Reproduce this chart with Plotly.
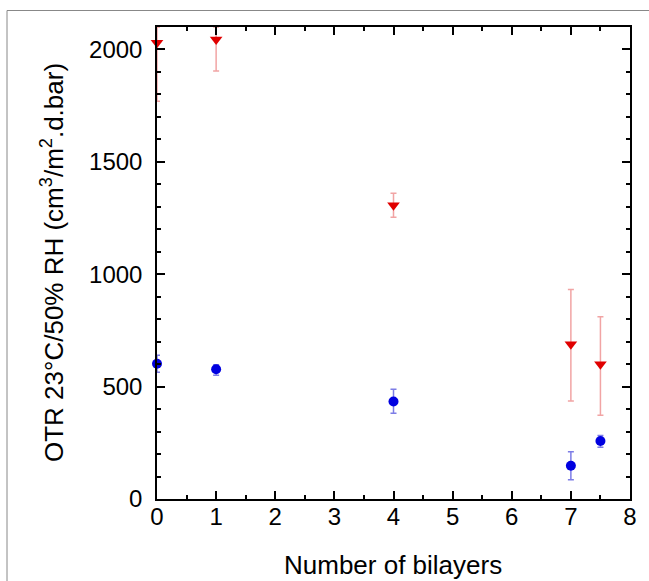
import plotly.graph_objects as go

# Red series (down triangles)
red_x = [0, 1, 4, 7, 7.5]
red_y = [2030, 2044, 1307, 688, 599]
red_err_plus = [70, 56, 53, 244, 212]
red_err_minus = [260, 140, 53, 252, 226]

# Blue series (circles)
blue_x = [0, 1, 4, 7, 7.5]
blue_y = [602, 577, 434, 148, 258]
blue_err_plus = [38, 20, 54, 62, 25]
blue_err_minus = [38, 26, 53, 62, 28]

x_ticks = [0, 1, 2, 3, 4, 5, 6, 7, 8]
y_ticks = [0, 500, 1000, 1500, 2000]

x_title = "Number of bilayers"
y_title = "OTR 23°C/50% RH (cm<sup>3</sup>/m<sup>2</sup>.d.bar)"

FONT = "Liberation Sans, Arial, sans-serif"

fig = go.Figure()
fig.add_trace(go.Scatter(
    x=red_x, y=red_y, mode="markers",
    marker=dict(symbol="triangle-down", size=11, color="#e00000"),
    error_y=dict(type="data", symmetric=False, array=red_err_plus,
                 arrayminus=red_err_minus, color="rgba(230,90,90,0.55)",
                 thickness=1.5, width=3),
    cliponaxis=False, showlegend=False))
fig.add_trace(go.Scatter(
    x=blue_x, y=blue_y, mode="markers",
    marker=dict(symbol="circle", size=10, color="#0000e0"),
    error_y=dict(type="data", symmetric=False, array=blue_err_plus,
                 arrayminus=blue_err_minus, color="rgba(70,70,220,0.7)",
                 thickness=1.5, width=3),
    cliponaxis=False, showlegend=False))

axis_common = dict(
    showgrid=False, zeroline=False, showline=True, linecolor="black",
    linewidth=1.5, mirror="allticks", ticks="inside", ticklen=8,
    tickwidth=1.5, tickcolor="black", automargin=False,
    tickfont=dict(family=FONT, size=24, color="black"),
)

fig.update_xaxes(
    range=[0, 8], tickvals=x_ticks, ticktext=[str(v) for v in x_ticks],
    minor=dict(dtick=0.5, ticks="inside", ticklen=4, tickwidth=1.5,
               tickcolor="black", showgrid=False),
    ticklabelstandoff=-5,
    **axis_common)
fig.update_yaxes(
    range=[0, 2100], tickvals=y_ticks, ticktext=[str(v) for v in y_ticks],
    minor=dict(dtick=100, ticks="inside", ticklen=4, tickwidth=1.5,
               tickcolor="black", showgrid=False),
    ticklabelstandoff=8,
    **axis_common)

fig.add_annotation(text=x_title, xref="paper", yref="paper",
                   x=(393 - 157) / 473, y=-(565 - 499) / 472,
                   xanchor="center", yanchor="middle",
                   showarrow=False, font=dict(family=FONT, size=26, color="black"))
fig.add_annotation(text=y_title, xref="paper", yref="paper",
                   x=(52 - 157) / 473, y=0.5, xanchor="center", yanchor="middle",
                   textangle=-90, showarrow=False,
                   font=dict(family=FONT, size=26, color="black"))

fig.add_shape(type="rect", xref="paper", yref="paper",
              x0=(7 - 157) / 473, x1=1.2, y0=-0.3, y1=(499 - 10.5) / 472,
              line=dict(color="#888888", width=1), layer="below")

fig.update_layout(
    width=649, height=581,
    margin=dict(l=157, r=19, t=27, b=82),
    paper_bgcolor="white", plot_bgcolor="white",
    font=dict(family=FONT, color="black"),
)

fig.write_html("out.html", config={"displayModeBar": False},
               post_script="document.body.style.margin='0';document.body.style.overflow='hidden';")
